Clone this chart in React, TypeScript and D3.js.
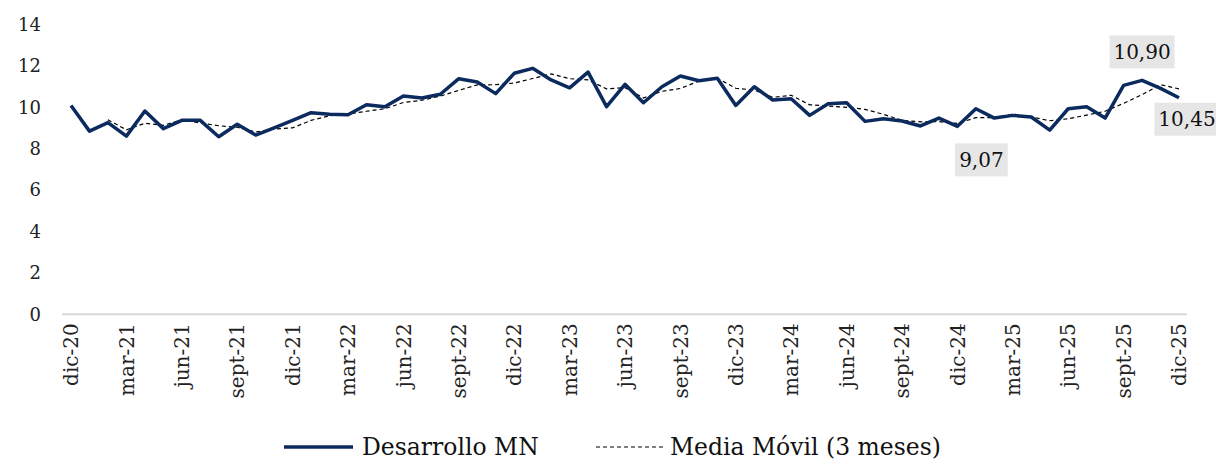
import React from "react";
import * as d3 from "d3";

const months = ["dic","ene","feb","mar","abr","may","jun","jul","ago","sept","oct","nov"];
const startYear = 20;
const nPoints = 61;

const categories: string[] = Array.from({ length: nPoints }, (_, i) => {
  const m = months[i % 12];
  const y = startYear + Math.floor((i + 11) / 12);
  return `${m}-${y}`;
});

const desarrolloMN: number[] = [
  10.08, 8.84, 9.25, 8.60, 9.81, 8.96, 9.36, 9.36, 8.57, 9.17,
  8.65, 9.00, 9.36, 9.73, 9.66, 9.63, 10.11, 10.02, 10.53, 10.44,
  10.62, 11.37, 11.21, 10.65, 11.63, 11.87, 11.31, 10.93, 11.69, 10.02,
  11.10, 10.21, 10.98, 11.50, 11.27, 11.39, 10.08, 10.98, 10.34, 10.40,
  9.60, 10.16, 10.21, 9.31, 9.44, 9.33, 9.09, 9.47, 9.07, 9.92,
  9.47, 9.60, 9.52, 8.89, 9.92, 10.02, 9.47, 11.05, 11.29, 10.90,
  10.45,
];

const mediaMovil: (number | null)[] = [
  null, null, 9.39, 8.90, 9.22, 9.12, 9.38, 9.23, 9.10, 9.03,
  8.80, 8.94, 9.00, 9.36, 9.58, 9.67, 9.80, 9.92, 10.22, 10.33,
  10.53, 10.81, 11.07, 11.08, 11.16, 11.38, 11.60, 11.37, 11.31, 10.88,
  10.94, 10.44, 10.76, 10.90, 11.25, 11.39, 10.91, 10.82, 10.47, 10.57,
  10.11, 10.05, 9.99, 9.89, 9.65, 9.36, 9.29, 9.30, 9.21, 9.49,
  9.49, 9.66, 9.53, 9.34, 9.44, 9.61, 9.80, 10.18, 10.60, 11.08,
  10.88,
];

const yTicks: number[] = [0, 2, 4, 6, 8, 10, 12, 14];

const dataLabels: { idx: number; text: string; dx: number; dy: number }[] = [
  { idx: 58, text: "10,90", dx: 0, dy: -29 },
  { idx: 48, text: "9,07", dx: 24, dy: 33 },
  { idx: 60, text: "10,45", dx: 8, dy: 21 },
];

const FONT = "'DejaVu Serif', 'Liberation Serif', serif";
const NAVY = "#0b2a5e";

export default function App() {
  const W = 1216, H = 463;
  const x = d3.scaleLinear().domain([0, nPoints - 1]).range([71, 1179]);
  const y = d3.scaleLinear().domain([0, 14]).range([314.3, 24.2]);

  const lineMain = d3.line<number>().x((_, i) => x(i)).y((d) => y(d));
  const lineMA = d3
    .line<number | null>()
    .defined((d) => d !== null)
    .x((_, i) => x(i))
    .y((d) => y(d as number));

  return (
    <svg width={W} height={H} style={{ position: "absolute", left: 0, top: 0, background: "#fff" }} fontFamily={FONT}>
      {/* axis line */}
      <line x1={62} x2={1187} y1={y(0)} y2={y(0)} stroke="#d9d9d9" strokeWidth={2} />
      {/* y ticks */}
      {yTicks.map((t) => (
        <text key={t} x={41} y={y(t)} dy="0.36em" textAnchor="end" fontSize={18} fill="#222">
          {t}
        </text>
      ))}
      {/* x labels */}
      {categories.map((c, i) =>
        i % 3 === 0 ? (
          <text
            key={c}
            transform={`translate(${x(i)},${y(0) + 9}) rotate(-90)`}
            textAnchor="end"
            dy="0.36em"
            fontSize={20}
            fill="#222"
          >
            {c}
          </text>
        ) : null
      )}
      {/* series */}
      <path d={lineMA(mediaMovil) || ""} fill="none" stroke="#000" strokeWidth={1.2} strokeDasharray="4,3" />
      <path d={lineMain(desarrolloMN) || ""} fill="none" stroke={NAVY} strokeWidth={3.5} strokeLinejoin="round" />
      {/* data labels */}
      {dataLabels.map((l) => {
        const cx = x(l.idx) + l.dx;
        const cy = y(desarrolloMN[l.idx]) + l.dy;
        const w = l.text.length * 12.2 + 4;
        return (
          <g key={l.text}>
            <rect x={cx - w / 2} y={cy - 16} width={w} height={33} fill="#e6e6e6" />
            <text x={cx} y={cy} dy="0.36em" textAnchor="middle" fontSize={20} fill="#111">
              {l.text}
            </text>
          </g>
        );
      })}
      {/* legend */}
      <line x1={284} x2={353} y1={447} y2={447} stroke={NAVY} strokeWidth={3.5} />
      <text x={362} y={447} dy="0.36em" fontSize={23.5} fill="#111">Desarrollo MN</text>
      <line x1={596} x2={664} y1={447} y2={447} stroke="#000" strokeWidth={1.2} strokeDasharray="4,3" />
      <text x={670} y={447} dy="0.36em" fontSize={23.5} fill="#111">Media Móvil (3 meses)</text>
    </svg>
  );
}
